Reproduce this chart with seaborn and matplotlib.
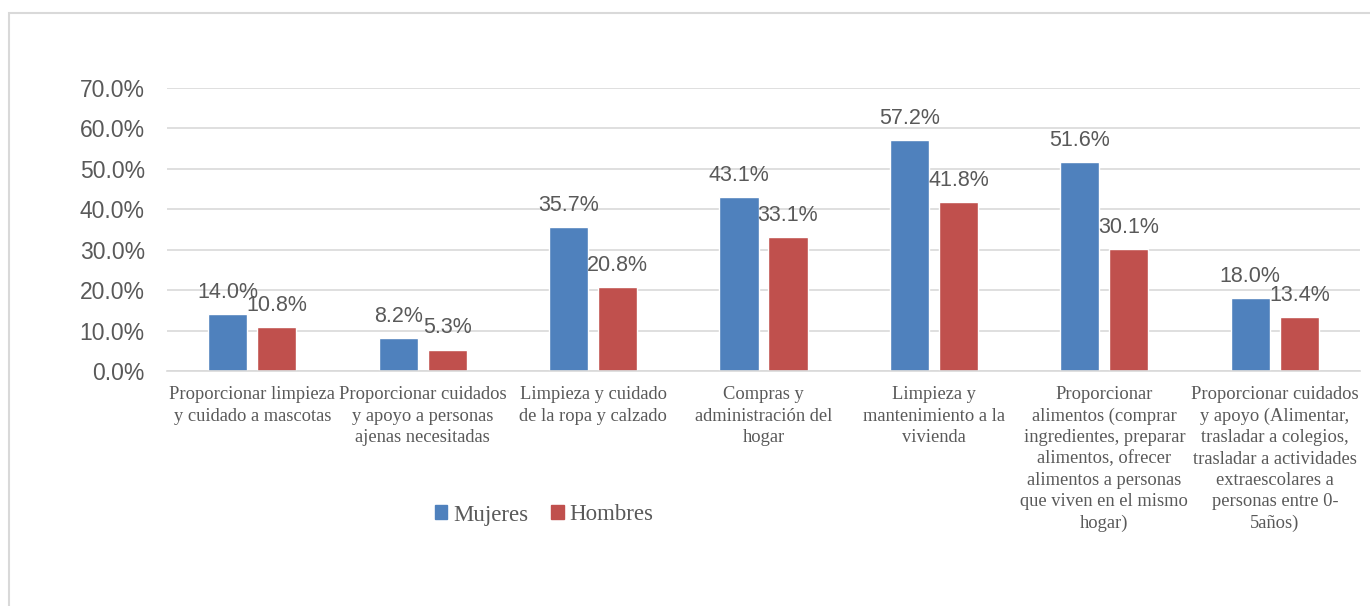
import matplotlib
matplotlib.use("Agg")
import matplotlib.pyplot as plt
from matplotlib.patches import Rectangle
from matplotlib.ticker import FuncFormatter
import seaborn as sns
import pandas as pd

# Actividades domésticas y de cuidado por sexo (%)
categorias = [
    "Proporcionar limpieza\ny cuidado a mascotas",
    "Proporcionar cuidados\ny apoyo a personas\najenas necesitadas",
    "Limpieza y cuidado\nde la ropa y calzado",
    "Compras y\nadministración del\nhogar",
    "Limpieza y\nmantenimiento a la\nvivienda",
    "Proporcionar\nalimentos (comprar\ningredientes, preparar\nalimentos, ofrecer\nalimentos a personas\nque viven en el mismo\nhogar)",
    "Proporcionar cuidados\ny apoyo (Alimentar,\ntrasladar a colegios,\ntrasladar a actividades\nextraescolares a\npersonas entre 0-\n5años)",
]
mujeres = [14.0, 8.2, 35.7, 43.1, 57.2, 51.6, 18.0]
hombres = [10.8, 5.3, 20.8, 33.1, 41.8, 30.1, 13.4]
series = ["Mujeres", "Hombres"]
colores = ["#4F81BD", "#C0504D"]
y_ticks = [0, 10, 20, 30, 40, 50, 60, 70]

df = pd.DataFrame({
    "Categoria": categorias * 2,
    "Sexo": [series[0]] * len(categorias) + [series[1]] * len(categorias),
    "Valor": mujeres + hombres,
})

sns.set_theme(style="white")
plt.rcParams["font.family"] = ["Liberation Sans", "DejaVu Sans"]

gris = "#595959"
fig = plt.figure(figsize=(13.7, 6.06), dpi=100)
ax = fig.add_axes([167 / 1370, 1 - 371 / 606, (1360 - 167) / 1370, (371 - 88) / 606])

sns.barplot(data=df, x="Categoria", y="Valor", hue="Sexo", order=categorias,
            hue_order=series, palette=colores, width=0.575, gap=0.2,
            saturation=1, ax=ax, legend=True)

ax.set_ylim(0, 70)
ax.set_yticks(y_ticks)
ax.yaxis.set_major_formatter(FuncFormatter(lambda v, _: f"{v:.1f}%"))
ax.grid(axis="y", color="#d9d9d9", linewidth=1.2)
ax.set_axisbelow(True)
for s in ["top", "right", "left"]:
    ax.spines[s].set_visible(False)
ax.spines["bottom"].set_color("#d9d9d9")
ax.spines["bottom"].set_linewidth(1.2)
ax.set_xlabel("")
ax.set_ylabel("")
ax.tick_params(axis="y", length=0, pad=16, labelsize=16.5, labelcolor=gris)
ax.tick_params(axis="x", length=0, pad=11)
for lbl in ax.get_xticklabels():
    lbl.set_fontfamily("Liberation Serif")
    lbl.set_fontsize(13.3)
    lbl.set_color(gris)
    lbl.set_linespacing(1.33)
    lbl.set_horizontalalignment("center")
    lbl.set_verticalalignment("top")

for cont in ax.containers:
    ax.bar_label(cont, fmt="%.1f%%", padding=8, fontsize=15.5, color=gris)

ax.legend_.remove()
handles = [Rectangle((0, 0), 1, 1, color=c) for c in colores]
fig.legend(handles, series, loc="center", bbox_to_anchor=(544 / 1370, 1 - 515 / 606),
           ncol=2, frameon=False, handlelength=0.55, handleheight=0.55,
           handletextpad=0.25, columnspacing=1.0,
           prop={"family": "Liberation Serif", "size": 16.5}, labelcolor=gris)

# Marco del gráfico
fig.patches.append(Rectangle((8.5 / 1370, -0.02), 1.05, 1 - 12.5 / 606 + 0.02,
                             transform=fig.transFigure, fill=False,
                             edgecolor="#d9d9d9", linewidth=1.5))

fig.savefig("out.png", dpi=100)
